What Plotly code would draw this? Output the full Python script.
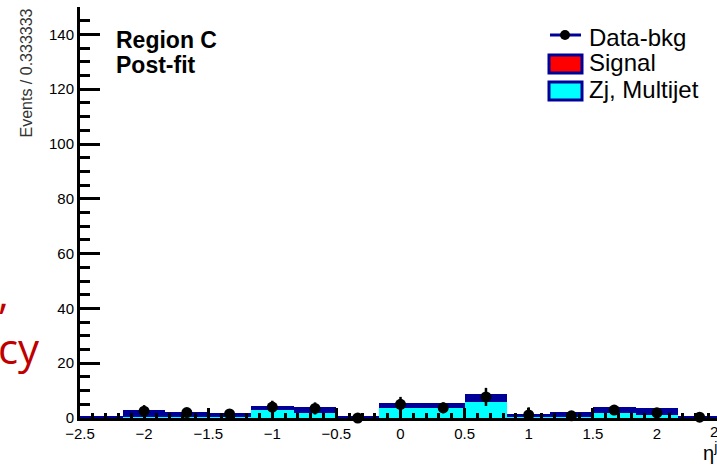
import plotly.graph_objects as go

# eta bins (width 1/3 from -2.5 to 2.5)
eta_centers = [-7/3, -2, -5/3, -4/3, -1, -2/3, -1/3, 0, 1/3, 2/3, 1, 4/3, 5/3, 2, 7/3]
bin_width = 1/3

# post-fit Zj + multijet prediction and its uncertainty
zj_multijet = [0.4, 1.75, 1.4, 1.25, 3.7, 2.95, 0.3, 4.4, 4.4, 7.3, 0.75, 1.3, 2.8, 2.3, 0.4]
zj_unc = [0.4, 1.25, 0.9, 0.75, 0.7, 0.95, 0.3, 0.9, 0.9, 1.4, 0.55, 1.0, 1.1, 1.2, 0.4]

# background-subtracted data
data_eta = [-2, -5/3, -4/3, -1, -2/3, -1/3, 0, 1/3, 2/3, 1, 4/3, 5/3, 2, 7/3]
data_bkg = [2.5, 2.0, 1.5, 4.0, 3.5, 0.0, 5.0, 3.7, 7.7, 1.1, 0.8, 2.9, 1.9, 0.3]
data_err = [2.2, 1.6, 1.5, 2.3, 2.2, 1.0, 2.7, 2.0, 3.3, 2.8, 1.0, 1.6, 1.5, 0.8]

W, H = 717, 466
L, R, T, B = 80, 0, 7, 48
PW, PH = W - L - R, H - T - B
X0 = -2.5
XSCALE = 128.2  # px per unit eta
X1 = X0 + PW / XSCALE

NAVY = "#000099"
CYAN = "#00FFFF"
FONT = "Liberation Sans, Arial, sans-serif"


def px(xp):
    return (xp - L) / PW


def py(yp):
    return (H - B - yp) / PH


fig = go.Figure()

fig.add_trace(go.Bar(
    x=eta_centers, y=[z - e for z, e in zip(zj_multijet, zj_unc)],
    width=bin_width, marker=dict(color=CYAN, line=dict(width=0)),
    showlegend=False, hoverinfo="skip"))
fig.add_trace(go.Bar(
    x=eta_centers, y=[2 * e for e in zj_unc],
    base=[z - e for z, e in zip(zj_multijet, zj_unc)],
    width=bin_width, marker=dict(color=NAVY, line=dict(width=0)),
    showlegend=False, hoverinfo="skip"))

fig.add_trace(go.Scatter(
    x=data_eta, y=data_bkg, mode="markers",
    marker=dict(color="black", size=11),
    error_y=dict(type="data", array=data_err, color="black", thickness=2.5, width=0),
    showlegend=False, hoverinfo="skip", cliponaxis=False))

# legend drawn by hand, ROOT style
shapes = [
    dict(type="line", xref="paper", yref="paper", x0=px(550), x1=px(581), y0=py(35), y1=py(35),
         line=dict(color=NAVY, width=3)),
    dict(type="circle", xref="paper", yref="paper", x0=px(560), x1=px(570), y0=py(30), y1=py(40),
         fillcolor="black", line=dict(color="black", width=0)),
    dict(type="rect", xref="paper", yref="paper", x0=px(549), x1=px(582), y0=py(55), y1=py(73),
         fillcolor="#FF0000", line=dict(color=NAVY, width=3)),
    dict(type="rect", xref="paper", yref="paper", x0=px(549), x1=px(582), y0=py(82), y1=py(100),
         fillcolor=CYAN, line=dict(color=NAVY, width=3)),
]

annotations = []
for label, yc in [("Data-bkg", 37), ("Signal", 63), ("Zj, Multijet", 90)]:
    annotations.append(dict(text=label, xref="paper", yref="paper", x=px(587), y=py(yc),
                            xanchor="left", yanchor="middle", showarrow=False,
                            font=dict(family=FONT, size=24, color="black")))

annotations += [
    dict(text="<b>Region C</b>", xref="paper", yref="paper", x=px(114), y=py(40),
         xanchor="left", yanchor="middle", showarrow=False,
         font=dict(family=FONT, size=23, color="black")),
    dict(text="<b>Post-fit</b>", xref="paper", yref="paper", x=px(114), y=py(65),
         xanchor="left", yanchor="middle", showarrow=False,
         font=dict(family=FONT, size=23, color="black")),
    dict(text="Events / 0.333333", xref="paper", yref="paper", x=px(26), y=py(7),
         xanchor="center", yanchor="top", textangle=-90, showarrow=False,
         font=dict(family=FONT, size=16, color="#333333")),
    dict(text="η<sup>jet</sup>", xref="paper", yref="paper", x=px(701), y=py(452),
         xanchor="left", yanchor="middle", showarrow=False,
         font=dict(family=FONT, size=20, color="black")),
    dict(text="2.5", xref="paper", yref="paper", x=px(400 + 2.5 * XSCALE), y=py(431),
         xanchor="center", yanchor="middle", showarrow=False,
         font=dict(family=FONT, size=15, color="black")),
    # red slide text behind the chart
    dict(text=",<br>cy", xref="paper", yref="paper", x=px(-4), y=py(378),
         xanchor="left", yanchor="bottom", align="left", showarrow=False,
         font=dict(family="Open Sans, sans-serif", size=42, color="#C00000")),
]

fig.update_layout(
    width=W, height=H,
    margin=dict(l=L, r=R, t=T, b=B, pad=0),
    paper_bgcolor="white", plot_bgcolor="white",
    barmode="overlay", bargap=0,
    shapes=shapes, annotations=annotations,
    font=dict(family=FONT, size=15, color="black"),
)

fig.update_xaxes(
    range=[X0, X1], showgrid=False, zeroline=False,
    showline=True, linecolor="black", linewidth=3, mirror=False,
    ticks="inside", ticklen=10, tickwidth=3, tickcolor="black",
    tick0=0, dtick=0.5,
    minor=dict(ticks="inside", ticklen=5, tickwidth=3, tickcolor="black", dtick=0.1, showgrid=False),
    tickfont=dict(family=FONT, size=15, color="black"),
)
fig.update_yaxes(
    range=[0, 150], showgrid=False, zeroline=False,
    showline=True, linecolor="black", linewidth=3, mirror=False,
    ticks="inside", ticklen=20, tickwidth=3, tickcolor="black",
    tick0=0, dtick=20,
    minor=dict(ticks="inside", ticklen=10, tickwidth=3, tickcolor="black", dtick=5, showgrid=False),
    tickfont=dict(family=FONT, size=15, color="black"),
)

fig.write_html("out.html")
